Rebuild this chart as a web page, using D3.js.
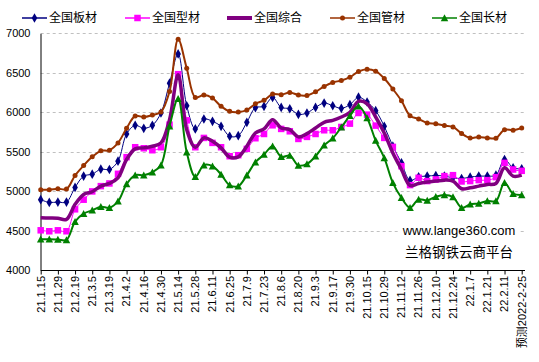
<!DOCTYPE html>
<html><head><meta charset="utf-8">
<script src="https://cdn.jsdelivr.net/npm/d3@7"></script>
<style>body{margin:0;background:#fff}svg{display:block}</style>
</head><body>
<svg id="c" width="539" height="362"></svg>
<script>
const categories = ["21.1.15","21.1.22","21.1.29","21.2.5","21.2.19","21.2.26","21.3.5","21.3.12","21.3.19","21.3.26",
"21.4.2","21.4.9","21.4.16","21.4.23","21.4.30","21.5.7","21.5.14","21.5.21","21.5.28","21.6.4",
"21.6.11","21.6.18","21.6.25","21.7.2","21.7.9","21.7.16","21.7.23","21.7.30","21.8.6","21.8.13",
"21.8.20","21.8.27","21.9.3","21.9.10","21.9.17","21.9.24","21.9.30","21.10.8","21.10.15","21.10.22",
"21.10.29","21.11.5","21.11.12","21.11.19","21.11.26","21.12.3","21.12.10","21.12.17","21.12.24","21.12.31",
"22.1.7","22.1.14","22.1.21","22.1.28","22.2.11","22.2.18","预测2022-2-25"];
const banCai = [4891,4857,4861,4861,5047,5190,5215,5278,5274,5379,5724,5834,5796,5834,5990,6368,6739,6082,5788,5914,5884,5821,5695,5703,5872,6057,6074,6187,6061,6044,5973,5990,6061,6116,6082,6049,6095,6190,6129,6019,5821,5569,5358,5135,5181,5190,5198,5190,5169,5160,5177,5190,5190,5202,5400,5295,5282];
const xingCai = [4503,4491,4503,4491,4769,4891,4996,5063,5097,5219,5430,5556,5543,5518,5556,5842,6482,5897,5556,5674,5611,5556,5442,5455,5535,5670,5724,5834,5788,5758,5661,5687,5724,5771,5771,5813,5855,5990,5969,5830,5674,5560,5316,5076,5169,5127,5148,5190,5202,5122,5127,5139,5139,5177,5358,5274,5257];
const zongHe = [4663,4659,4655,4642,4832,4958,4992,5063,5097,5168,5400,5535,5548,5569,5611,5905,6474,5779,5556,5674,5632,5548,5430,5434,5569,5737,5788,5905,5800,5779,5687,5729,5800,5872,5897,5939,5998,6137,6107,5939,5737,5484,5274,5072,5097,5114,5127,5139,5127,5030,5042,5063,5084,5097,5295,5190,5202];
const guanCai = [5017,5017,5030,5026,5198,5324,5434,5510,5518,5611,5796,5952,5939,5964,6002,6263,6924,6558,6187,6217,6179,6074,6011,6002,6027,6107,6150,6230,6221,6251,6217,6213,6259,6326,6377,6402,6444,6516,6545,6520,6427,6293,6145,5956,5914,5863,5855,5830,5813,5729,5674,5687,5674,5670,5779,5771,5800];
const changCai = [4390,4390,4386,4381,4613,4714,4756,4802,4790,4870,5089,5202,5202,5240,5329,5821,6171,5493,5181,5329,5316,5211,5076,5063,5202,5367,5463,5569,5434,5451,5324,5345,5442,5581,5670,5809,5956,6074,5926,5640,5421,5105,4916,4790,4895,4882,4929,4950,4924,4790,4832,4844,4874,4874,5105,4967,4950];
const seriesNames = ["全国板材","全国型材","全国综合","全国管材","全国长材"];
const yTicks = [4000,4500,5000,5500,6000,6500,7000];

const series = [
  {name:seriesNames[0], values:banCai, color:"#000080", width:1, marker:"diamond", ms:6},
  {name:seriesNames[1], values:xingCai, color:"#FF00FF", width:1, marker:"square", ms:6.5},
  {name:seriesNames[2], values:zongHe, color:"#800080", width:3.5, marker:null},
  {name:seriesNames[3], values:guanCai, color:"#993300", width:2, marker:"circle", ms:5},
  {name:seriesNames[4], values:changCai, color:"#008000", width:2, marker:"triangle", ms:6.5}
];

const svg = d3.select("#c");
const font = "'Liberation Sans', 'Noto Sans CJK SC', sans-serif";
const x = d3.scalePoint().domain(categories).range([40.7, 521.7]);
const y = d3.scaleLinear().domain([4000,7000]).range([270, 33.3]);

// grid
svg.append("g").selectAll("line").data(yTicks.filter(d=>d>4000)).join("line")
  .attr("x1",40.7).attr("x2",525).attr("y1",d=>Math.round(y(d))+0.5).attr("y2",d=>Math.round(y(d))+0.5)
  .attr("stroke","#c0c0c0").attr("stroke-width",1).attr("stroke-dasharray","3,3");

// watermark
const wm = svg.append("g");
wm.append("rect").attr("x",398).attr("y",221).attr("width",122).attr("height",40).attr("fill","#fff");
wm.append("text").attr("x",459).attr("y",235).attr("text-anchor","middle").attr("font-family",font)
  .attr("font-size",13).attr("fill","#000").text("www.lange360.com");
wm.append("text").attr("x",459).attr("y",257).attr("text-anchor","middle").attr("font-family","'Noto Sans CJK SC', sans-serif")
  .attr("font-size",13.5).attr("fill","#000").text("兰格钢铁云商平台");

// axes
const yAxis = d3.axisLeft(y).tickValues(yTicks).tickSize(0).tickPadding(10).tickFormat(d3.format("d"));
const gy = svg.append("g").attr("transform","translate(40.5,0)").call(yAxis);
gy.select(".domain").attr("stroke","#000");
gy.selectAll("text").attr("font-family",font).attr("font-size",11).attr("fill","#000");

const xTickCats = categories.filter((d,i)=>i%2===0);
const xAxis = d3.axisBottom(x).tickValues(xTickCats).tickSize(4).tickSizeOuter(0).tickFormat(()=>"" );
const gx = svg.append("g").attr("transform","translate(0,270.5)").call(xAxis);
gx.select(".domain").attr("stroke","#000").attr("d","M40.7,0H525");
gx.selectAll(".tick line").attr("stroke","#000");
svg.append("g").selectAll("text").data(xTickCats).join("text")
  .attr("transform",d=>`translate(${x(d)},276) rotate(-90)`)
  .attr("text-anchor","end").attr("dy","0.35em")
  .attr("font-family",font).attr("font-size",11).attr("fill","#000").text(d=>d);

// series
const line = d3.line().x((d,i)=>x(categories[i])).y(d=>y(d)).curve(d3.curveCatmullRom.alpha(0.5));
function marker(g, type, size, color){
  if(type==="diamond") return g.append("path").attr("d",d3.symbol(d3.symbolDiamond, size*size*0.75)());
  if(type==="square") return g.append("rect").attr("x",-size/2).attr("y",-size/2).attr("width",size).attr("height",size);
  if(type==="circle") return g.append("circle").attr("r",size/2);
  if(type==="triangle") return g.append("path").attr("d",`M0,${-size/2-0.5}L${size/2+0.5},${size/2}L${-size/2-0.5},${size/2}Z`);
}
series.forEach(s=>{
  const g = svg.append("g");
  g.append("path").attr("d",line(s.values)).attr("fill","none").attr("stroke",s.color).attr("stroke-width",s.width);
  if(s.marker){
    s.values.forEach((v,i)=>{
      const mg = g.append("g").attr("transform",`translate(${x(categories[i])},${y(v)})`);
      marker(mg, s.marker, s.ms).attr("fill",s.color);
    });
  }
});

// legend
const legX = [22,125,227,330,432];
series.forEach((s,k)=>{
  const g = svg.append("g").attr("transform",`translate(${legX[k]},18)`);
  g.append("line").attr("x1",0).attr("x2",25).attr("stroke",s.color).attr("stroke-width",s.marker?1.5:4);
  if(s.marker){
    const mg = g.append("g").attr("transform","translate(12.5,0)");
    marker(mg, s.marker, s.ms).attr("fill",s.color);
  }
  g.append("text").attr("x",27).attr("y",0).attr("dy","0.36em").attr("font-family","'Noto Sans CJK SC', sans-serif")
    .attr("font-size",12).attr("fill","#000").text(s.name);
});
</script>
</body></html>
